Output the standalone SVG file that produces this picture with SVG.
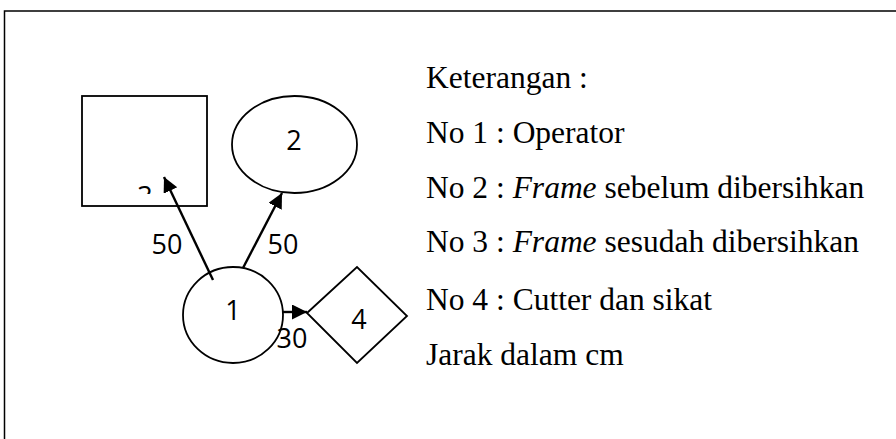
<svg xmlns="http://www.w3.org/2000/svg" width="896" height="439" viewBox="0 0 896 439">
<style>
.shape{fill:#fff;stroke:#000;stroke-width:1.8}
.lbl{font-family:"Open Sans","Liberation Sans",sans-serif;font-size:27px;fill:#000;text-anchor:middle}
.leg{font-family:"Liberation Serif","Times New Roman",serif;font-size:31.5px;fill:#000}
.conn{stroke:#000;stroke-width:2.4;fill:none;marker-end:url(#ah)}
</style>
<defs>
<marker id="ah" markerUnits="userSpaceOnUse" markerWidth="16" markerHeight="16" refX="15" refY="7.5" orient="auto">
<path d="M0,0 L15,7.5 L0,15 Z" fill="#000"/>
</marker>
<clipPath id="c3"><rect x="82" y="96" width="125" height="98"/></clipPath>
</defs>
<rect x="4.5" y="11" width="900" height="440" fill="#fff" stroke="#000" stroke-width="1.5"/>
<g id="node3">
<rect class="shape" x="82" y="96" width="125" height="110"/>
<text class="lbl" x="145" y="206" clip-path="url(#c3)">3</text>
</g>
<g id="node2">
<ellipse class="shape" cx="294.5" cy="144.5" rx="62.5" ry="48.5"/>
<text class="lbl" x="294" y="150">2</text>
</g>
<g id="node1">
<ellipse class="shape" cx="233" cy="315" rx="50" ry="48"/>
<text class="lbl" x="233" y="320">1</text>
</g>
<g id="node4">
<polygon class="shape" points="307,313 357,267 407,316 357,363"/>
<text class="lbl" x="359" y="329">4</text>
</g>
<g id="connectors">
<line class="conn" x1="213" y1="280" x2="164" y2="177"/>
<line class="conn" x1="243" y1="268" x2="282" y2="193"/>
<line class="conn" x1="283" y1="312" x2="307" y2="312"/>
<text class="lbl" x="167" y="254">50</text>
<text class="lbl" x="283" y="254">50</text>
<text class="lbl" x="292" y="348">30</text>
</g>
<g id="legend">
<text class="leg" x="426" y="88">Keterangan :</text>
<text class="leg" x="426" y="143">No 1 : Operator</text>
<text class="leg" x="426" y="198">No 2 : <tspan font-style="italic">Frame</tspan> sebelum dibersihkan</text>
<text class="leg" x="426" y="252">No 3 : <tspan font-style="italic">Frame</tspan> sesudah dibersihkan</text>
<text class="leg" x="426" y="310">No 4 : Cutter dan sikat</text>
<text class="leg" x="426" y="365">Jarak dalam cm</text>
</g>
</svg>
